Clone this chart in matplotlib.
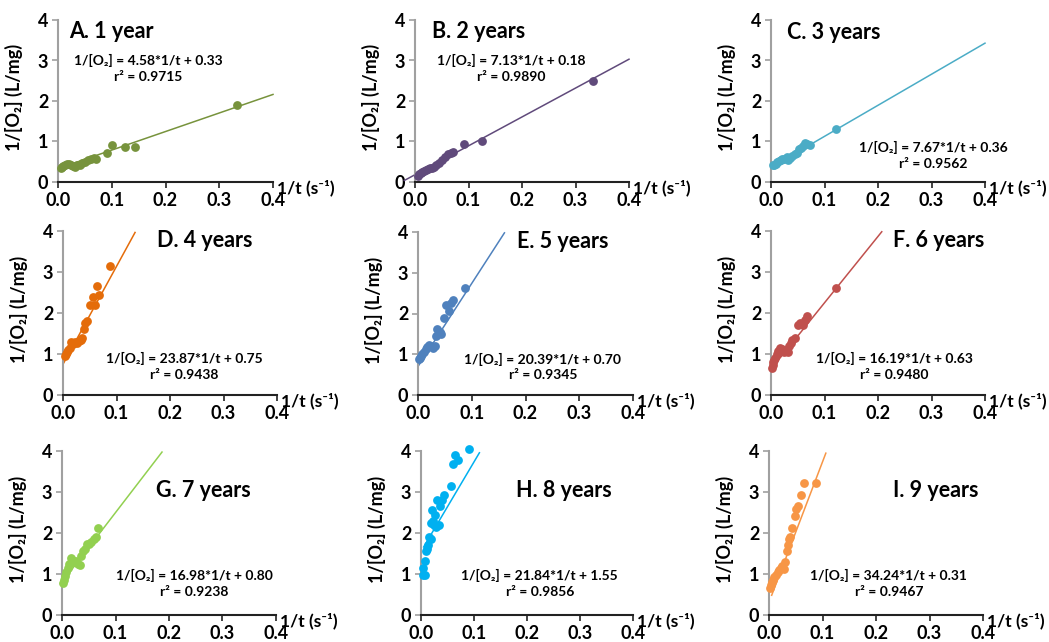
import numpy as np
import matplotlib
matplotlib.use('Agg')
import matplotlib.pyplot as plt

plt.rcParams['font.family'] = ['Lato', 'DejaVu Sans']
plt.rcParams['font.weight'] = 'bold'

# panel titles, colours and fitted lines
titles = ['A. 1 year', 'B. 2 years', 'C. 3 years', 'D. 4 years', 'E. 5 years',
          'F. 6 years', 'G. 7 years', 'H. 8 years', 'I. 9 years']
colors = ['#77933C', '#604A7B', '#4BACC6', '#E46C0A', '#4F81BD',
          '#C0504D', '#92D050', '#00B0F0', '#F79646']
slopes = [4.58, 7.13, 7.67, 23.87, 20.39, 16.19, 16.98, 21.84, 34.24]
intercepts = [0.33, 0.18, 0.36, 0.75, 0.70, 0.63, 0.80, 1.55, 0.31]
r2 = ['0.9715', '0.9890', '0.9562', '0.9438', '0.9345', '0.9480', '0.9238', '0.9856', '0.9467']
line_start = [0.0, -0.02, 0.0, 0.0, 0.0, 0.0, 0.0, 0.005, 0.005]

# scatter data, 1/t and 1/[O2]
x_a = [0.005, 0.007, 0.01, 0.013, 0.017, 0.02, 0.024, 0.028, 0.032, 0.036, 0.04,
       0.045, 0.05, 0.056, 0.062, 0.067, 0.071, 0.091, 0.1, 0.125, 0.143, 0.333]
y_a = [0.35, 0.38, 0.4, 0.42, 0.44, 0.45, 0.43, 0.4, 0.38, 0.42, 0.43,
       0.47, 0.5, 0.55, 0.58, 0.6, 0.58, 0.72, 0.92, 0.87, 0.87, 1.9]
x_b = [0.005, 0.008, 0.011, 0.014, 0.017, 0.02, 0.024, 0.028, 0.032, 0.036, 0.04,
       0.045, 0.05, 0.056, 0.062, 0.067, 0.071, 0.091, 0.125, 0.333]
y_b = [0.15, 0.2, 0.22, 0.25, 0.28, 0.3, 0.33, 0.35, 0.35, 0.38, 0.42,
       0.48, 0.55, 0.62, 0.68, 0.72, 0.75, 0.95, 1.0, 2.5]
x_c = [0.003, 0.006, 0.009, 0.012, 0.015, 0.018, 0.021, 0.025, 0.029, 0.032, 0.036,
       0.04, 0.044, 0.048, 0.052, 0.056, 0.06, 0.064, 0.068, 0.072, 0.122]
y_c = [0.42, 0.42, 0.45, 0.5, 0.52, 0.55, 0.57, 0.58, 0.62, 0.55, 0.6,
       0.65, 0.68, 0.72, 0.82, 0.85, 0.9, 0.97, 0.95, 0.92, 1.32]
x_d = [0.003, 0.005, 0.007, 0.01, 0.013, 0.015, 0.018, 0.022, 0.027, 0.03, 0.033,
       0.036, 0.04, 0.042, 0.045, 0.05, 0.056, 0.06, 0.064, 0.068, 0.088]
y_d = [0.95, 1.0, 1.05, 1.1, 1.15, 1.3, 1.25, 1.3, 1.28, 1.32, 1.35,
       1.4, 1.6, 1.75, 1.8, 2.2, 2.38, 2.2, 2.65, 2.45, 3.15]
x_e = [0.002, 0.004, 0.006, 0.008, 0.011, 0.014, 0.017, 0.02, 0.024, 0.028, 0.031,
       0.033, 0.036, 0.04, 0.043, 0.048, 0.053, 0.058, 0.061, 0.066, 0.087]
y_e = [0.88, 0.92, 0.95, 1.0, 1.05, 1.12, 1.18, 1.22, 1.2, 1.15, 1.2,
       1.45, 1.62, 1.55, 1.5, 1.9, 2.2, 2.05, 2.25, 2.32, 2.62]
x_f = [0.002, 0.003, 0.004, 0.006, 0.008, 0.011, 0.014, 0.017, 0.02, 0.024, 0.028,
       0.031, 0.034, 0.037, 0.04, 0.044, 0.05, 0.055, 0.059, 0.063, 0.067, 0.122]
y_f = [0.65, 0.72, 0.8, 0.85, 0.9, 1.0, 1.08, 1.15, 1.12, 1.05, 1.1,
       1.05, 1.2, 1.28, 1.35, 1.4, 1.7, 1.75, 1.7, 1.82, 1.92, 2.62]
x_g = [0.002, 0.004, 0.006, 0.008, 0.011, 0.014, 0.016, 0.019, 0.022, 0.026, 0.03,
       0.033, 0.036, 0.039, 0.043, 0.046, 0.05, 0.055, 0.06, 0.064, 0.067]
y_g = [0.78, 0.85, 0.95, 1.05, 1.15, 1.25, 1.38, 1.35, 1.3, 1.32, 1.25,
       1.22, 1.45, 1.55, 1.62, 1.72, 1.72, 1.78, 1.85, 1.9, 2.12]
x_h = [0.003, 0.004, 0.007, 0.008, 0.01, 0.012, 0.014, 0.016, 0.018, 0.019, 0.02,
       0.022, 0.025, 0.027, 0.029, 0.031, 0.034, 0.036, 0.039, 0.043, 0.056,
       0.061, 0.064, 0.07, 0.09]
y_h = [0.97, 1.15, 0.98, 1.32, 1.55, 1.6, 1.7, 1.9, 1.85, 2.25, 2.55,
       2.3, 2.2, 2.45, 2.15, 2.8, 2.2, 2.65, 2.8, 2.92, 3.15,
       3.68, 3.9, 3.78, 4.05]
x_i = [0.002, 0.004, 0.006, 0.008, 0.01, 0.013, 0.016, 0.019, 0.022, 0.025, 0.028,
       0.03, 0.033, 0.035, 0.037, 0.04, 0.043, 0.048, 0.051, 0.055, 0.06, 0.066, 0.087]
y_i = [0.65, 0.72, 0.8, 0.85, 0.92, 0.98, 1.05, 1.1, 1.15, 1.2, 1.12,
       1.3, 1.55, 1.7, 1.85, 1.9, 2.12, 2.42, 2.58, 2.65, 2.92, 3.22, 3.22]
xs = [x_a, x_b, x_c, x_d, x_e, x_f, x_g, x_h, x_i]
ys = [y_a, y_b, y_c, y_d, y_e, y_f, y_g, y_h, y_i]

# layout (pixels)
W, H = 1049, 642
boxes = [(58, 273, 20, 182), (415, 629, 20, 182), (771, 985, 20, 182),
         (63, 277, 231, 395), (418, 633, 232, 395), (771, 985, 231, 395),
         (62, 276, 451, 615), (421, 633, 451, 615), (769, 983, 451, 615)]
title_pos = [(0.05, 0.93), (0.08, 0.93), (0.075, 0.92), (0.44, 0.94), (0.46, 0.94),
             (0.57, 0.945), (0.44, 0.76), (0.45, 0.76), (0.58, 0.76)]
eq_pos = [(0.42, 0.75), (0.45, 0.75), (0.76, 0.21), (0.565, 0.22), (0.58, 0.22),
          (0.575, 0.22), (0.62, 0.24), (0.56, 0.24), (0.56, 0.24)]

fig = plt.figure(figsize=(W / 100, H / 100), dpi=100)

for k in range(9):
    l, r, t, b = boxes[k]
    ax = fig.add_axes([l / W, 1 - b / H, (r - l) / W, (b - t) / H])
    ax.scatter(xs[k], ys[k], s=40, color=colors[k], zorder=3, clip_on=False, linewidths=0)
    xl = np.linspace(line_start[k], 0.4, 200)
    yl = slopes[k] * xl + intercepts[k]
    m = yl <= 4
    ax.plot(xl[m], yl[m], color=colors[k], lw=1.1, zorder=2, clip_on=False)
    ax.set_xlim(0, 0.4)
    ax.set_ylim(0, 4)
    ax.set_xticks([0, 0.1, 0.2, 0.3, 0.4])
    ax.set_xticklabels(['0.0', '0.1', '0.2', '0.3', '0.4'])
    ax.set_yticks([0, 1, 2, 3, 4])
    for s in ['top', 'right']:
        ax.spines[s].set_visible(False)
    ax.spines['left'].set_color('#a0a0a0')
    ax.spines['left'].set_linewidth(1.5)
    ax.spines['bottom'].set_color('#222222')
    ax.spines['bottom'].set_linewidth(1.5)
    ax.tick_params(axis='y', colors='#a0a0a0', labelcolor='black', length=4, width=1.2, labelsize=13, pad=3)
    ax.tick_params(axis='x', colors='#222222', labelcolor='black', length=4, width=1.2, labelsize=13, pad=3)
    for lab in ax.get_xticklabels() + ax.get_yticklabels():
        lab.set_fontweight('bold')
    ax.set_ylabel('1/[O₂] (L/mg)', fontsize=13, fontweight='bold')
    ax.yaxis.set_label_coords(-0.165, 0.52)
    ax.annotate('1/t (s⁻¹)', xy=(1, 0), xycoords='axes fraction', xytext=(3, -4),
                textcoords='offset points', ha='left', va='center',
                fontsize=12.5, fontweight='bold')
    ax.text(title_pos[k][0], title_pos[k][1], titles[k], transform=ax.transAxes,
            ha='left', va='center', fontsize=15.5, fontweight='bold')
    ex, ey = eq_pos[k]
    ax.text(ex, ey, '1/[O₂] = %.2f*1/t + %.2f' % (slopes[k], intercepts[k]),
            transform=ax.transAxes, ha='center', va='center', fontsize=10, fontweight='bold')
    ax.text(ex, ey - 0.1, 'r² = ' + r2[k], transform=ax.transAxes, ha='center', va='center',
            fontsize=10, fontweight='bold')

fig.savefig('out.png', dpi=100)
